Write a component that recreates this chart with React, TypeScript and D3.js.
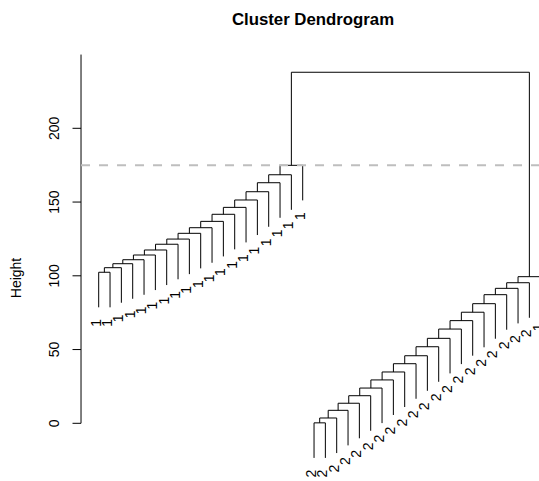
import React from "react";
import * as d3 from "d3";

// Leaf labels in plotting order (left to right)
const leftLabels = ["1","1","1","1","1","1","1","1","1","1","1","1","1","1","1","1","1","1","1"];
const rightLabels = ["2","2","2","2","2","2","2","2","2","2","2","2","2","2","2","2","2","2","2","2","1"];

// Merge heights of the left chain (each merge adds the next leaf)
const leftMergeHeights = [102.4, 105.5, 108.2, 110.9, 114.1, 117.5, 121.4, 124.9, 128.8, 132.6, 136.9, 141.7, 146.4, 151.4, 157.0, 163.1, 168.5, 174.9];
// Merge heights of the right chain
const rightMergeHeights = [0.3, 3.6, 8.8, 13.6, 18.7, 23.9, 29.4, 34.8, 40.4, 45.8, 51.9, 57.6, 63.9, 69.6, 75.3, 81.1, 87.2, 91.5, 95.3, 99.4];
const rootHeight = 238;
const cutHeight = 175;
const yTicks = [0, 50, 100, 150, 200];
const axisTopValue = 250;

const W = 539;
const H = 481;
const FONT = "'Liberation Sans', Arial, Helvetica, sans-serif";

type Node = { leaf?: number; left?: Node; right?: Node; height: number };

function buildTree(): { root: Node; labels: string[] } {
  const labels = [...leftLabels, ...rightLabels];
  let left: Node = { leaf: 0, height: 0 };
  leftMergeHeights.forEach((h, i) => {
    left = { left, right: { leaf: i + 1, height: 0 }, height: h };
  });
  const off = leftLabels.length;
  let right: Node = { leaf: off, height: 0 };
  rightMergeHeights.forEach((h, i) => {
    right = { left: right, right: { leaf: off + i + 1, height: 0 }, height: h };
  });
  return { root: { left, right, height: rootHeight }, labels };
}

export default function App() {
  const { root, labels } = buildTree();
  const n = labels.length;
  const x = d3.scaleLinear().domain([1, n]).range([98.7, 540.7]);
  const y = d3.scaleLinear().domain([0, 200]).range([423.3, 128.3]);
  const allH = [...leftMergeHeights, ...rightMergeHeights, rootHeight];
  const hang = 0.1 * ((d3.max(allH) as number) - (d3.min(allH) as number));
  const plotLeft = x(1 - 0.04 * (n - 1));
  const labelOffset = 11.7;

  const paths: string[] = [];
  const leafMarks: { x: number; yEnd: number; label: string }[] = [];

  function draw(node: Node): { px: number; py: number } {
    const h = node.height;
    const side = (child: Node) => {
      if (child.leaf !== undefined) {
        const lx = x(child.leaf + 1);
        const ly = y(h - hang);
        leafMarks.push({ x: lx, yEnd: ly, label: labels[child.leaf] });
        return { px: lx, py: ly };
      }
      return draw(child);
    };
    const l = side(node.left as Node);
    const r = side(node.right as Node);
    const yy = y(h);
    paths.push(`M${l.px},${l.py}V${yy}H${r.px}V${r.py}`);
    return { px: (l.px + r.px) / 2, py: yy };
  }
  draw(root);

  return (
    <svg width={W} height={H} style={{ position: "absolute", left: 0, top: 0, background: "#fff" }} fontFamily={FONT}>
      <rect width={W} height={H} fill="#fff" />
      <text x={313} y={25} textAnchor="middle" fontWeight="bold" fontSize={16.8} fill="#000">Cluster Dendrogram</text>
      {/* y axis */}
      <line x1={plotLeft} x2={plotLeft} y1={y(0)} y2={y(axisTopValue)} stroke="#000" strokeWidth={1} />
      {yTicks.map((t) => (
        <g key={t}>
          <line x1={plotLeft - 8.5} x2={plotLeft} y1={y(t)} y2={y(t)} stroke="#000" strokeWidth={1} />
          <text transform={`translate(59.3,${y(t)}) rotate(-90)`} textAnchor="middle" fontSize={14} fill="#000">{t}</text>
        </g>
      ))}
      <text transform={`translate(21,278) rotate(-90)`} textAnchor="middle" fontSize={14} fill="#000">Height</text>
      {/* dendrogram */}
      {paths.map((p, i) => (
        <path key={i} d={p} fill="none" stroke="#000" strokeWidth={1} />
      ))}
      {leafMarks.map((m, i) => (
        <text key={i} transform={`translate(${m.x},${m.yEnd + labelOffset}) rotate(-90)`} y={2} textAnchor="end" fontSize={14} fill="#000">{m.label}</text>
      ))}
      {/* cut line */}
      <line x1={plotLeft} x2={W + 20} y1={y(cutHeight)} y2={y(cutHeight)} stroke="#bebebe" strokeWidth={2} strokeDasharray="9,9" />
    </svg>
  );
}
